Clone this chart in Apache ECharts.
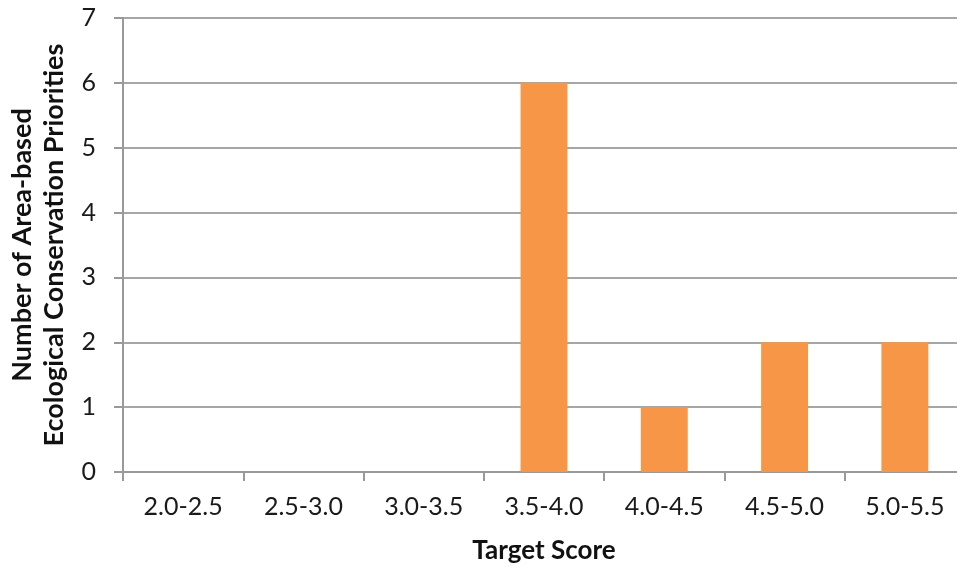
<!DOCTYPE html>
<html><head><meta charset="utf-8">
<script src="https://cdn.jsdelivr.net/npm/echarts@6/dist/echarts.min.js"></script>
<style>html,body{margin:0;padding:0;background:#fff}#c{width:957px;height:566px}</style>
</head><body><div id="c"></div>
<script>
const categories = ['2.0-2.5','2.5-3.0','3.0-3.5','3.5-4.0','4.0-4.5','4.5-5.0','5.0-5.5'];
const counts = [0, 0, 0, 6, 1, 2, 2];
const xTitle = 'Target Score';
const yTitle = 'Number of Area-based\nEcological Conservation Priorities';
const FONT = 'Lato, "Open Sans", sans-serif';
const chart = echarts.init(document.getElementById('c'), null, {renderer:'canvas'});
chart.setOption({
  animation:false,
  grid:{left:123, right:-8, top:18, bottom:94, containLabel:false, outerBoundsMode:'none'},
  xAxis:{
    type:'category', data:categories,
    axisLine:{lineStyle:{color:'#999', width:2}},
    axisTick:{show:true, length:9, lineStyle:{color:'#999', width:2}},
    axisLabel:{color:'#1a1a1a', fontSize:25, fontFamily:FONT, margin:22},
    name:xTitle, nameLocation:'middle', nameGap:66,
    nameTextStyle:{color:'#111', fontSize:26, fontWeight:'bold', fontFamily:FONT}
  },
  yAxis:{
    type:'value', min:0, max:7, interval:1,
    axisLine:{show:true, lineStyle:{color:'#999', width:2}},
    axisTick:{show:true, length:9, lineStyle:{color:'#999', width:2}},
    splitLine:{lineStyle:{color:'#a6a6a6', width:2}},
    axisLabel:{color:'#1a1a1a', fontSize:25, fontFamily:FONT, margin:27},
    name:yTitle, nameLocation:'middle', nameGap:52, nameRotate:90,
    nameTextStyle:{color:'#111', fontSize:27, fontWeight:'bold', fontFamily:FONT, lineHeight:32, align:'center'}
  },
  series:[{
    type:'bar', data:counts, barWidth:'39%',
    itemStyle:{color:'#F79646'}
  }]
});
</script></body></html>
